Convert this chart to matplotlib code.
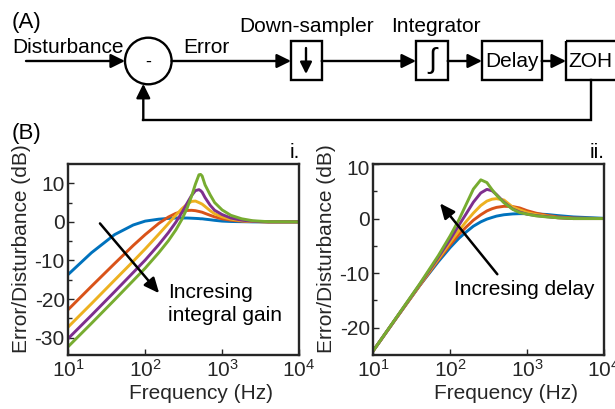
import matplotlib
matplotlib.use('Agg')
import matplotlib.pyplot as plt
from matplotlib.patches import Rectangle, Circle
from matplotlib.ticker import FixedLocator, LogLocator, NullFormatter

plt.rcParams['font.family'] = ['Liberation Sans', 'DejaVu Sans']
plt.rcParams['axes.unicode_minus'] = False
plt.rcParams['mathtext.fontset'] = 'custom'
plt.rcParams['mathtext.rm'] = 'Liberation Sans'
plt.rcParams['mathtext.it'] = 'Liberation Sans:italic'
plt.rcParams['mathtext.bf'] = 'Liberation Sans:bold'

# ---------------- data ----------------
colors = ['#0072BD', '#D95319', '#EDB120', '#7E2F8E', '#77AC30']

# panel i: increasing integral gain
freq_gain = [10, 20, 40, 70, 100, 150, 200, 250, 300, 350, 400, 450, 500, 525,
             550, 600, 700, 800, 1000, 1300, 1800, 2500, 4000, 10000]
gain_1 = [-13.6, -8.0, -3.3, -0.8, 0.2, 0.7, 0.9, 1.0, 1.0, 1.0, 0.95, 0.9, 0.85, 0.8,
          0.8, 0.7, 0.55, 0.4, 0.2, 0.1, 0.05, 0.0, 0.0, 0.0]
gain_2 = [-22.7, -16.7, -10.8, -6.1, -3.3, -0.4, 1.25, 2.2, 2.7, 2.95, 3.0, 2.9, 2.7, 2.6,
          2.5, 2.2, 1.7, 1.3, 0.8, 0.45, 0.2, 0.1, 0.0, 0.0]
gain_3 = [-27.2, -21.2, -15.1, -10.2, -7.0, -3.2, -0.45, 1.73, 3.4, 4.56, 5.3, 5.4, 5.0, 4.8,
          4.6, 4.0, 2.9, 2.1, 1.3, 0.7, 0.3, 0.1, 0.0, 0.0]
gain_4 = [-30.2, -24.2, -18.1, -13.1, -9.9, -5.9, -2.8, -0.1, 2.4, 4.8, 6.8, 8.1, 8.35, 8.1,
          7.7, 6.3, 4.3, 3.0, 1.9, 1.0, 0.45, 0.15, 0.0, 0.0]
gain_5 = [-32.3, -26.3, -20.2, -15.2, -12.0, -8.0, -4.9, -2.1, 0.65, 3.5, 6.6, 9.8, 12.2, 12.3,
          11.9, 9.6, 7.0, 5.0, 3.1, 1.7, 0.8, 0.3, 0.05, 0.0]
gain_series = [gain_1, gain_2, gain_3, gain_4, gain_5]

# panel ii: increasing delay
freq_delay = [10, 20, 40, 70, 100, 130, 160, 200, 250, 300, 350, 400, 500, 650, 800,
              1000, 1300, 1800, 2500, 4000, 10000]
delay_1 = [-24.2, -18.2, -12.3, -7.9, -5.3, -3.6, -2.5, -1.4, -0.6, -0.1, 0.2, 0.45, 0.7,
           0.85, 0.9, 0.9, 0.85, 0.75, 0.55, 0.3, 0.05]
delay_2 = [-24.2, -18.2, -12.3, -7.6, -4.8, -2.9, -1.6, -0.3, 0.7, 1.4, 1.8, 2.05, 2.25,
           2.2, 1.95, 1.45, 1.0, 0.6, 0.3, 0.1, 0.0]
delay_3 = [-24.2, -18.2, -12.2, -7.4, -4.35, -2.2, -0.6, 1.0, 2.4, 3.2, 3.55, 3.65, 3.4,
           2.1, 1.6, 1.1, 0.75, 0.45, 0.15, 0.0, 0.0]
delay_4 = [-24.2, -18.15, -12.1, -7.1, -3.8, -1.2, 0.8, 3.0, 4.7, 5.35, 5.1, 4.4, 3.0,
           1.75, 1.2, 0.8, 0.55, 0.35, 0.15, 0.0, 0.0]
delay_5 = [-24.2, -18.1, -12.0, -6.8, -3.15, -0.2, 2.5, 5.4, 7.1, 6.6, 5.3, 4.3, 2.9,
           1.7, 1.1, 0.8, 0.5, 0.3, 0.15, 0.0, 0.0]
delay_series = [delay_1, delay_2, delay_3, delay_4, delay_5]

yticks_gain = [-30, -20, -10, 0, 10]
yticks_delay = [-20, -10, 0, 10]

# ---------------- figure ----------------
W, H = 615, 409
fig = plt.figure(figsize=(W / 100, H / 100), dpi=100)
FS = 15
LW = 1.7

# block diagram (pixel-mapped overlay axes)
d = fig.add_axes([0, 0, 1, 1])
d.set_xlim(0, W)
d.set_ylim(H, 0)
d.axis('off')


def arrow(x0, y0, x1, y1, hl=0.85, hw=0.42):
    d.annotate('', xy=(x1, y1), xytext=(x0, y0),
               arrowprops=dict(arrowstyle=f'-|>,head_length={hl},head_width={hw}',
                               mutation_scale=10, lw=LW, color='k',
                               shrinkA=0, shrinkB=0))


def box(x0, y0, x1, y1):
    d.add_patch(Rectangle((x0, y0), x1 - x0, y1 - y0, fill=False, lw=LW, ec='k'))


yl = 61
box(291, 40.7, 321.7, 80)
box(416, 40.7, 447.7, 80)
box(482, 40.7, 541.7, 80)
box(566, 40.7, 622, 80)
d.add_patch(Circle((148.3, yl), 23.3, fill=False, lw=LW, ec='k'))

arrow(26, yl, 125, yl)
arrow(171.6, yl, 291, yl)
arrow(321.7, yl, 416, yl)
arrow(447.7, yl, 482, yl)
arrow(541.7, yl, 566, yl)
d.plot([591, 591, 143.3], [80, 120, 120], color='k', lw=LW, solid_joinstyle='miter')
arrow(143.3, 120, 143.3, 83.8)
arrow(306, 48, 306, 74, hl=0.7, hw=0.35)

d.text(12, 28, '(A)', fontsize=16, va='baseline')
d.text(12, 53, 'Disturbance', fontsize=FS, va='baseline')
d.text(183, 53, 'Error', fontsize=FS, va='baseline')
d.text(239, 31.7, 'Down-sampler', fontsize=FS, va='baseline')
d.text(391, 31.7, 'Integrator', fontsize=FS, va='baseline')
d.text(511.8, 67, 'Delay', fontsize=FS, va='baseline', ha='center')
d.text(568.5, 67, 'ZOH', fontsize=FS, va='baseline')
d.text(148, 62, '-', fontsize=13, va='center', ha='center')
d.text(432, 60, '\u222b', fontsize=21, va='center', ha='center')
d.text(12, 138.5, '(B)', fontsize=16, va='baseline')

# plot axes
ax_l, ax_w = 68.3 / W, 230.7 / W
ax_b, ax_h = (H - 355) / H, 191 / H
axL = fig.add_axes([ax_l, ax_b, ax_w, ax_h])
axR = fig.add_axes([373.3 / W, ax_b, ax_w, ax_h])

TC = '#262626'


def setup(ax, ylim, yt, yminor):
    ax.set_xscale('log')
    ax.set_xlim(10, 1e4)
    ax.set_ylim(*ylim)
    ax.set_xticks([10, 100, 1000, 10000])
    ax.xaxis.set_minor_locator(LogLocator(base=10, subs=range(2, 10)))
    ax.xaxis.set_minor_formatter(NullFormatter())
    ax.yaxis.set_major_locator(FixedLocator(yt))
    ax.set_yticklabels([str(v) for v in yt])
    ax.yaxis.set_minor_locator(FixedLocator(yminor))
    ax.tick_params(which='both', direction='in', labelsize=FS, color=TC,
                   labelcolor=TC, width=1.0, pad=2.5)
    ax.tick_params(which='major', length=4)
    ax.tick_params(which='minor', length=3)
    for sp in ax.spines.values():
        sp.set_linewidth(1.7)
        sp.set_color(TC)
    ax.set_xlabel('Frequency (Hz)', fontsize=FS, color=TC)
    ax.set_ylabel('Error/Disturbance (dB)', fontsize=FS, color=TC)
    ax.xaxis.set_label_coords(0.575, -0.15)
    ax.yaxis.set_label_coords(-0.162, 0.555)


setup(axL, (-34.5, 15), yticks_gain, [-25, -15, -5, 5])
setup(axR, (-25, 10), yticks_delay, [-15, -5, 5])

# top "10" label of panel ii sits slightly below its tick in the reference
axR.set_yticklabels([str(v) for v in yticks_delay[:-1]] + [''])
axR.annotate('10', xy=(0, yticks_delay[-1]), xycoords=('axes fraction', 'data'),
             xytext=(-2.5, -4), textcoords='offset points', ha='right', va='center',
             fontsize=FS, color=TC)

for c, s in zip(colors, gain_series):
    axL.plot(freq_gain, s, color=c, lw=2.1, solid_joinstyle='round')
for c, s in zip(colors, delay_series):
    axR.plot(freq_delay, s, color=c, lw=2.1, solid_joinstyle='round')

ap = dict(arrowstyle='-|>,head_length=0.9,head_width=0.4', mutation_scale=10,
          lw=1.8, color='k', shrinkA=0, shrinkB=0)
axL.annotate('', xy=(152, -18.5), xytext=(25.8, -0.4), arrowprops=ap)
axL.text(200, -19.6, 'Incresing', fontsize=FS, va='baseline', ha='left')
axL.text(200, -25.7, 'integral gain', fontsize=FS, va='baseline', ha='left')

axR.annotate('', xy=(73.6, 2.8), xytext=(410, -10.2), arrowprops=ap)
axR.text(113, -14.0, 'Incresing delay', fontsize=FS, va='baseline', ha='left')

axL.text(1.004, 1.031, 'i.', transform=axL.transAxes, ha='right', va='baseline', fontsize=FS)
axR.text(1.004, 1.031, 'ii.', transform=axR.transAxes, ha='right', va='baseline', fontsize=FS)

fig.savefig('out.png', dpi=100)
